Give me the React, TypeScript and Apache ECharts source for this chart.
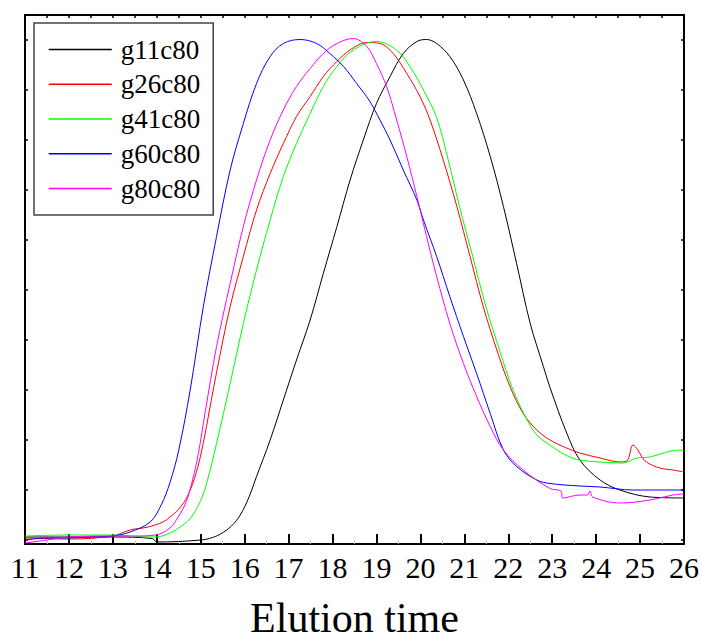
import React, { useEffect, useRef } from "react";
import * as echarts from "echarts";

const seriesNames = ["g11c80", "g26c80", "g41c80", "g60c80", "g80c80"];
const seriesColors = ["#000000", "#ff0000", "#00ff00", "#0000ff", "#ff00ff"];

const xTicks = [11, 12, 13, 14, 15, 16, 17, 18, 19, 20, 21, 22, 23, 24, 25, 26];
const yTickValues = [0, 10, 20, 30, 40, 50, 60, 70, 80, 90, 100];

const g11c80 = [
  [11, 0.6], [12, 0.6], [13, 0.6], [13.9, 0.3], [14, -0.4], [14.5, -0.3], [15, 0], [15.2, 0.3],
  [15.45, 1.2], [15.7, 2.8], [15.9, 5], [16.1, 8.6], [16.27, 12.7], [16.58, 20], [16.88, 28],
  [17.18, 36], [17.49, 44], [17.79, 53.3], [18.1, 62.7], [18.4, 72], [18.7, 80], [19.0, 87.3],
  [19.31, 92.7], [19.61, 97.3], [19.92, 99.7], [20.14, 100.1], [20.37, 99.3], [20.67, 96.7],
  [20.98, 92], [21.28, 85.3], [21.59, 76.7], [21.89, 66.7], [22.19, 55.3], [22.5, 43.3],
  [22.8, 34.7], [22.95, 30.5], [23.33, 21.4], [23.63, 16], [24.09, 12], [24.54, 10],
  [25.23, 8.6], [26, 8.4],
];

const g26c80 = [
  [11, 0.4], [12, 0.2], [13, 0.8], [13.39, 2], [13.8, 2.6], [14.14, 3.6], [14.3, 4.6],
  [14.5, 6.2], [14.7, 8.8], [14.9, 13.5], [15.06, 19.5], [15.2, 26], [15.36, 33.5], [15.67, 46.7],
  [15.97, 56.7], [16.27, 66], [16.58, 73.3], [16.88, 79.3], [17.18, 84.7], [17.49, 88.7],
  [17.79, 92.7], [18.1, 95.7], [18.4, 98], [18.78, 99.5], [19.08, 99.3], [19.38, 97.3],
  [19.69, 93.3], [19.99, 88.7], [20.22, 84], [20.52, 76], [20.83, 66.7], [21.13, 56.7],
  [21.43, 46.7], [21.74, 38], [22.04, 30.7], [22.34, 25.3], [22.65, 22], [22.95, 20],
  [23.3, 18.5], [23.63, 17.4], [24.09, 16.4], [24.54, 15.6], [24.7, 15.8], [24.84, 19],
  [24.95, 18], [25.05, 16.5], [25.16, 15.5], [25.45, 14.4], [25.75, 14], [26, 13.6],
];

const g41c80 = [
  [11, 0.8], [12, 1], [13, 1], [13.5, 0.7], [13.97, 0.6], [14.3, 1.4], [14.53, 2.6], [14.75, 4.2],
  [14.92, 6.5], [15.05, 9], [15.2, 13.5], [15.36, 19.3], [15.67, 31.3], [15.97, 43.3],
  [16.27, 54], [16.58, 64], [16.88, 72.7], [17.18, 79.3], [17.49, 85.3], [17.79, 90.7],
  [18.1, 94.7], [18.47, 98], [19.0, 99.7], [19.46, 98], [19.76, 94.7], [20.07, 90],
  [20.37, 84.5], [20.62, 76.5], [20.89, 66.7], [21.19, 56.7], [21.49, 46.7], [21.8, 38],
  [22.1, 30.2], [22.4, 24.5], [22.65, 21], [22.95, 19], [23.3, 17], [23.63, 16], [24.09, 15.6],
  [24.6, 15.4], [24.93, 16.4], [25.23, 16.6], [25.61, 17.6], [25.9, 18], [26, 17.8],
];

const g60c80 = [
  [11, 0], [11.5, 0.4], [12, 0.4], [12.5, 0.6], [13, 0.8], [13.39, 1.6], [13.85, 3.6], [14.1, 7],
  [14.3, 11.5], [14.5, 18], [14.76, 30], [15.06, 46.7], [15.36, 60.7], [15.67, 74], [15.97, 83.3],
  [16.27, 91.3], [16.58, 96.7], [16.88, 99.3], [17.26, 100.1], [17.64, 99.3], [17.94, 97.3],
  [18.25, 94.7], [18.55, 91.3], [18.85, 87.7], [19.08, 84], [19.31, 80], [19.61, 74],
  [19.92, 68], [20.07, 64], [20.37, 56.7], [20.67, 48.7], [20.98, 40.7], [21.28, 33.3],
  [21.59, 25.3], [21.89, 18], [22.19, 14.7], [22.65, 12], [22.95, 11.3], [23.63, 10.8],
  [24.09, 10.6], [24.84, 10], [25.61, 10], [26, 10],
];

const g80c80 = [
  [11, -0.6], [11.5, 0], [12, 0.6], [13, 0.8], [13.5, 0.8], [13.97, 1], [14.3, 2.4], [14.5, 4.8],
  [14.65, 7.2], [14.8, 11.5], [14.95, 17.5], [15.1, 25.5], [15.36, 38.7], [15.67, 51.3],
  [15.97, 62.7], [16.27, 72], [16.58, 80], [16.88, 86], [17.18, 90.7], [17.49, 94.3],
  [17.79, 97.3], [18.1, 99.3], [18.47, 100.3], [18.78, 98.7], [19.0, 95.3], [19.23, 90.7],
  [19.46, 84], [19.69, 76.7], [19.92, 68.7], [20.14, 60.7], [20.37, 52.7], [20.67, 43.3],
  [20.98, 35.3], [21.28, 28.7], [21.59, 22.7], [21.89, 18], [22.34, 14], [22.95, 10.3],
  [23.2, 9.8], [23.24, 8.4], [23.63, 9], [23.8, 9], [23.86, 9.8], [23.92, 8.6], [24.54, 7.4],
  [25.23, 8], [25.75, 9], [26, 9.2],
];

const seriesData = [g11c80, g26c80, g41c80, g60c80, g80c80];

const FONT = "'Liberation Serif', 'Times New Roman', serif";

export default function App() {
  const ref = useRef<HTMLDivElement>(null);

  useEffect(() => {
    if (!ref.current) return;
    const chart = echarts.init(ref.current, null, { renderer: "svg" });
    const axisLine = { show: true, onZero: false, lineStyle: { color: "#000", width: 2 } };
    chart.setOption({
      animation: false,
      backgroundColor: "#fff",
      grid: {
        left: 25,
        right: 17,
        top: 15,
        bottom: 98,
        containLabel: false,
        outerBoundsMode: "none",
      },
      legend: {
        orient: "vertical",
        left: 34,
        top: 23,
        padding: [13, 13, 13, 14],
        itemWidth: 63,
        itemHeight: 27,
        itemGap: 7.75,
        borderColor: "#444",
        borderWidth: 1.5,
        backgroundColor: "#fff",
        data: seriesNames,
        itemStyle: { color: "rgba(0,0,0,0)", borderWidth: 0, opacity: 0 },
        lineStyle: { width: 1.5 },
        textStyle: { fontFamily: FONT, fontSize: 27, color: "#000", padding: [0, 0, 0, 4] },
      },
      xAxis: [
        {
          type: "value",
          position: "bottom",
          min: xTicks[0],
          max: xTicks[xTicks.length - 1],
          interval: 1,
          axisLine,
          axisTick: { show: true, inside: true, length: 10, lineStyle: { color: "#000", width: 2 } },
          minorTick: { show: true, splitNumber: 2, length: 3, lineStyle: { color: "#bbb", width: 1 } },
          axisLabel: { show: true, fontFamily: FONT, fontSize: 30, color: "#000", margin: 8 },
          splitLine: { show: false },
          name: "Elution time",
          nameLocation: "middle",
          nameGap: 53,
          nameTextStyle: { fontFamily: FONT, fontSize: 42, lineHeight: 42, color: "#000" },
        },
        {
          type: "value",
          position: "top",
          min: xTicks[0],
          max: xTicks[xTicks.length - 1],
          interval: 0.5,
          axisLine,
          axisTick: { show: true, inside: true, length: 3, lineStyle: { color: "#000", width: 1.5 } },
          axisLabel: { show: false },
          splitLine: { show: false },
        },
      ],
      yAxis: [
        {
          type: "value",
          position: "left",
          min: -0.8,
          max: 105,
          axisLine,
          axisTick: { show: true, inside: true, length: 3, customValues: yTickValues, lineStyle: { color: "#000", width: 1.5 } },
          axisLabel: { show: false },
          splitLine: { show: false },
        },
        {
          type: "value",
          position: "right",
          min: -0.8,
          max: 105,
          axisLine,
          axisTick: { show: true, inside: true, length: 3, customValues: yTickValues, lineStyle: { color: "#000", width: 1.5 } },
          axisLabel: { show: false },
          splitLine: { show: false },
        },
      ],
      series: seriesNames.map((name, i) => ({
        name,
        type: "line",
        data: seriesData[i],
        xAxisIndex: 0,
        yAxisIndex: 0,
        symbol: "none",
        smooth: 0.35,
        lineStyle: { color: seriesColors[i], width: 1 },
        itemStyle: { color: seriesColors[i] },
        z: 2,
      })),
    });
    return () => chart.dispose();
  }, []);

  return (
    <div
      ref={ref}
      style={{ position: "fixed", left: 0, top: 0, width: 701, height: 642 }}
    />
  );
}
